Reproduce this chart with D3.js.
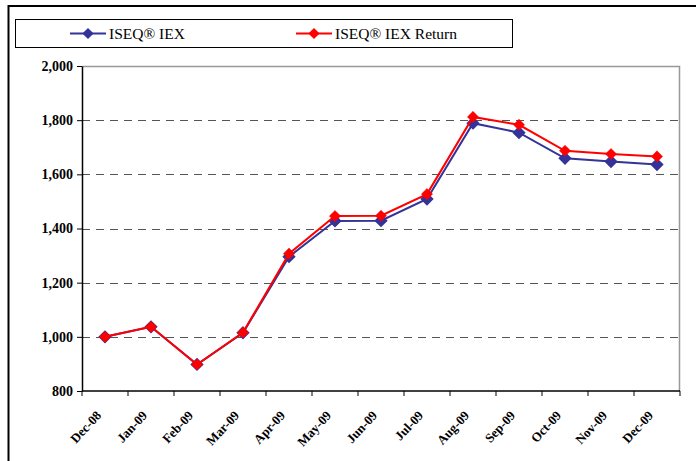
<!DOCTYPE html>
<html>
<head>
<meta charset="utf-8">
<script src="https://cdn.jsdelivr.net/npm/d3@7"></script>
<style>
  body { margin: 0; background: #fff; }
  text { font-family: "Times New Roman", "Liberation Serif", serif; }
</style>
</head>
<body>
<script>
// chart data
const months = ['Dec-08','Jan-09','Feb-09','Mar-09','Apr-09','May-09','Jun-09','Jul-09','Aug-09','Sep-09','Oct-09','Nov-09','Dec-09'];
const iex = [1000, 1037, 898, 1015, 1296, 1428, 1429, 1509, 1789, 1754, 1659, 1647, 1636];
const iexReturn = [1000, 1037, 898, 1016, 1307, 1446, 1447, 1527, 1812, 1783, 1687, 1675, 1666];
const yTicks = [800, 1000, 1200, 1400, 1600, 1800, 2000];
const seriesNames = ['ISEQ\u00ae IEX', 'ISEQ\u00ae IEX Return'];
const seriesColors = ['#333399', '#ff0000'];

const W = 696, H = 461;
const pLeft = 82, pRight = 680, pTop = 66, pBottom = 391;

const svg = d3.select('body').append('svg')
  .attr('width', W).attr('height', H);

// outer frame (runs off the right/bottom edge)
svg.append('rect')
  .attr('x', 8.5).attr('y', 6).attr('width', 720).attr('height', 480)
  .attr('fill', 'none').attr('stroke', '#000').attr('stroke-width', 2);

const x = d3.scaleBand().domain(months).range([pLeft, pRight]);
const y = d3.scaleLinear().domain([800, 2000]).range([pBottom, pTop]);

// grid lines
svg.append('g').selectAll('line')
  .data(yTicks.filter(d => d > 800 && d < 2000))
  .enter().append('line')
  .attr('x1', pLeft).attr('x2', pRight)
  .attr('y1', d => Math.round(y(d)) + 0.5).attr('y2', d => Math.round(y(d)) + 0.5)
  .attr('stroke', '#555').attr('stroke-dasharray', '8,6');

// plot border top & right (gray)
svg.append('path')
  .attr('d', `M${pLeft},${pTop + 0.5}H${pRight - 0.5}V${pBottom}`)
  .attr('fill', 'none').attr('stroke', '#999').attr('stroke-width', 1.5);

// y axis
const yAxis = svg.append('g')
  .attr('transform', `translate(${pLeft},0)`)
  .call(d3.axisLeft(y).tickValues(yTicks).tickSize(5).tickSizeOuter(0).tickFormat(d3.format(',')));
yAxis.select('.domain').attr('stroke', '#000').attr('stroke-width', 1.5);
yAxis.selectAll('text')
  .attr('font-size', 14).attr('font-weight', 'bold').attr('fill', '#000')
  .attr('x', -9);

// x axis: ticks on category boundaries
const xAxis = svg.append('g').attr('transform', `translate(0,${pBottom})`);
xAxis.append('line')
  .attr('x1', pLeft).attr('x2', pRight).attr('stroke', '#000').attr('stroke-width', 1.5);
const bounds = months.map(m => x(m)).concat([pRight]);
xAxis.selectAll('.tk').data(bounds).enter().append('line')
  .attr('class', 'tk')
  .attr('x1', d => d).attr('x2', d => d).attr('y1', 0).attr('y2', 5)
  .attr('stroke', '#000');
xAxis.selectAll('.lbl').data(months).enter().append('text')
  .attr('class', 'lbl')
  .attr('transform', d => `translate(${x(d) + x.bandwidth() / 2 - 3},${25}) rotate(-47)`)
  .attr('text-anchor', 'end')
  .attr('font-size', 13).attr('font-weight', 'bold')
  .text(d => d);

// lines and markers
const line = d3.line()
  .x((d, i) => x(months[i]) + x.bandwidth() / 2)
  .y(d => y(d));
const diamond = d3.symbol().type(d3.symbolDiamond2).size(80);

[iex, iexReturn].forEach((vals, s) => {
  svg.append('path')
    .datum(vals)
    .attr('d', line)
    .attr('fill', 'none')
    .attr('stroke', seriesColors[s]).attr('stroke-width', 2);
  svg.append('g').selectAll('path')
    .data(vals).enter().append('path')
    .attr('d', diamond)
    .attr('transform', (d, i) => `translate(${x(months[i]) + x.bandwidth() / 2},${y(d)})`)
    .attr('fill', seriesColors[s])
    .attr('stroke', seriesColors[s]).attr('stroke-width', s === 0 ? 1.5 : 0.5);
});

// legend
const lg = svg.append('g');
lg.append('rect')
  .attr('x', 15.5).attr('y', 19.5).attr('width', 497).attr('height', 28)
  .attr('fill', '#fff').attr('stroke', '#000');
const legendX = [70, 296];
seriesNames.forEach((name, s) => {
  const g = lg.append('g').attr('transform', `translate(${legendX[s]},33.5)`);
  g.append('line').attr('x1', 0).attr('x2', 36)
    .attr('stroke', seriesColors[s]).attr('stroke-width', 2);
  g.append('path').attr('d', diamond).attr('transform', 'translate(18,0)')
    .attr('fill', seriesColors[s]);
  g.append('text').attr('x', 39).attr('y', 5)
    .attr('font-size', 15.5).text(name);
});
</script>
</body>
</html>
